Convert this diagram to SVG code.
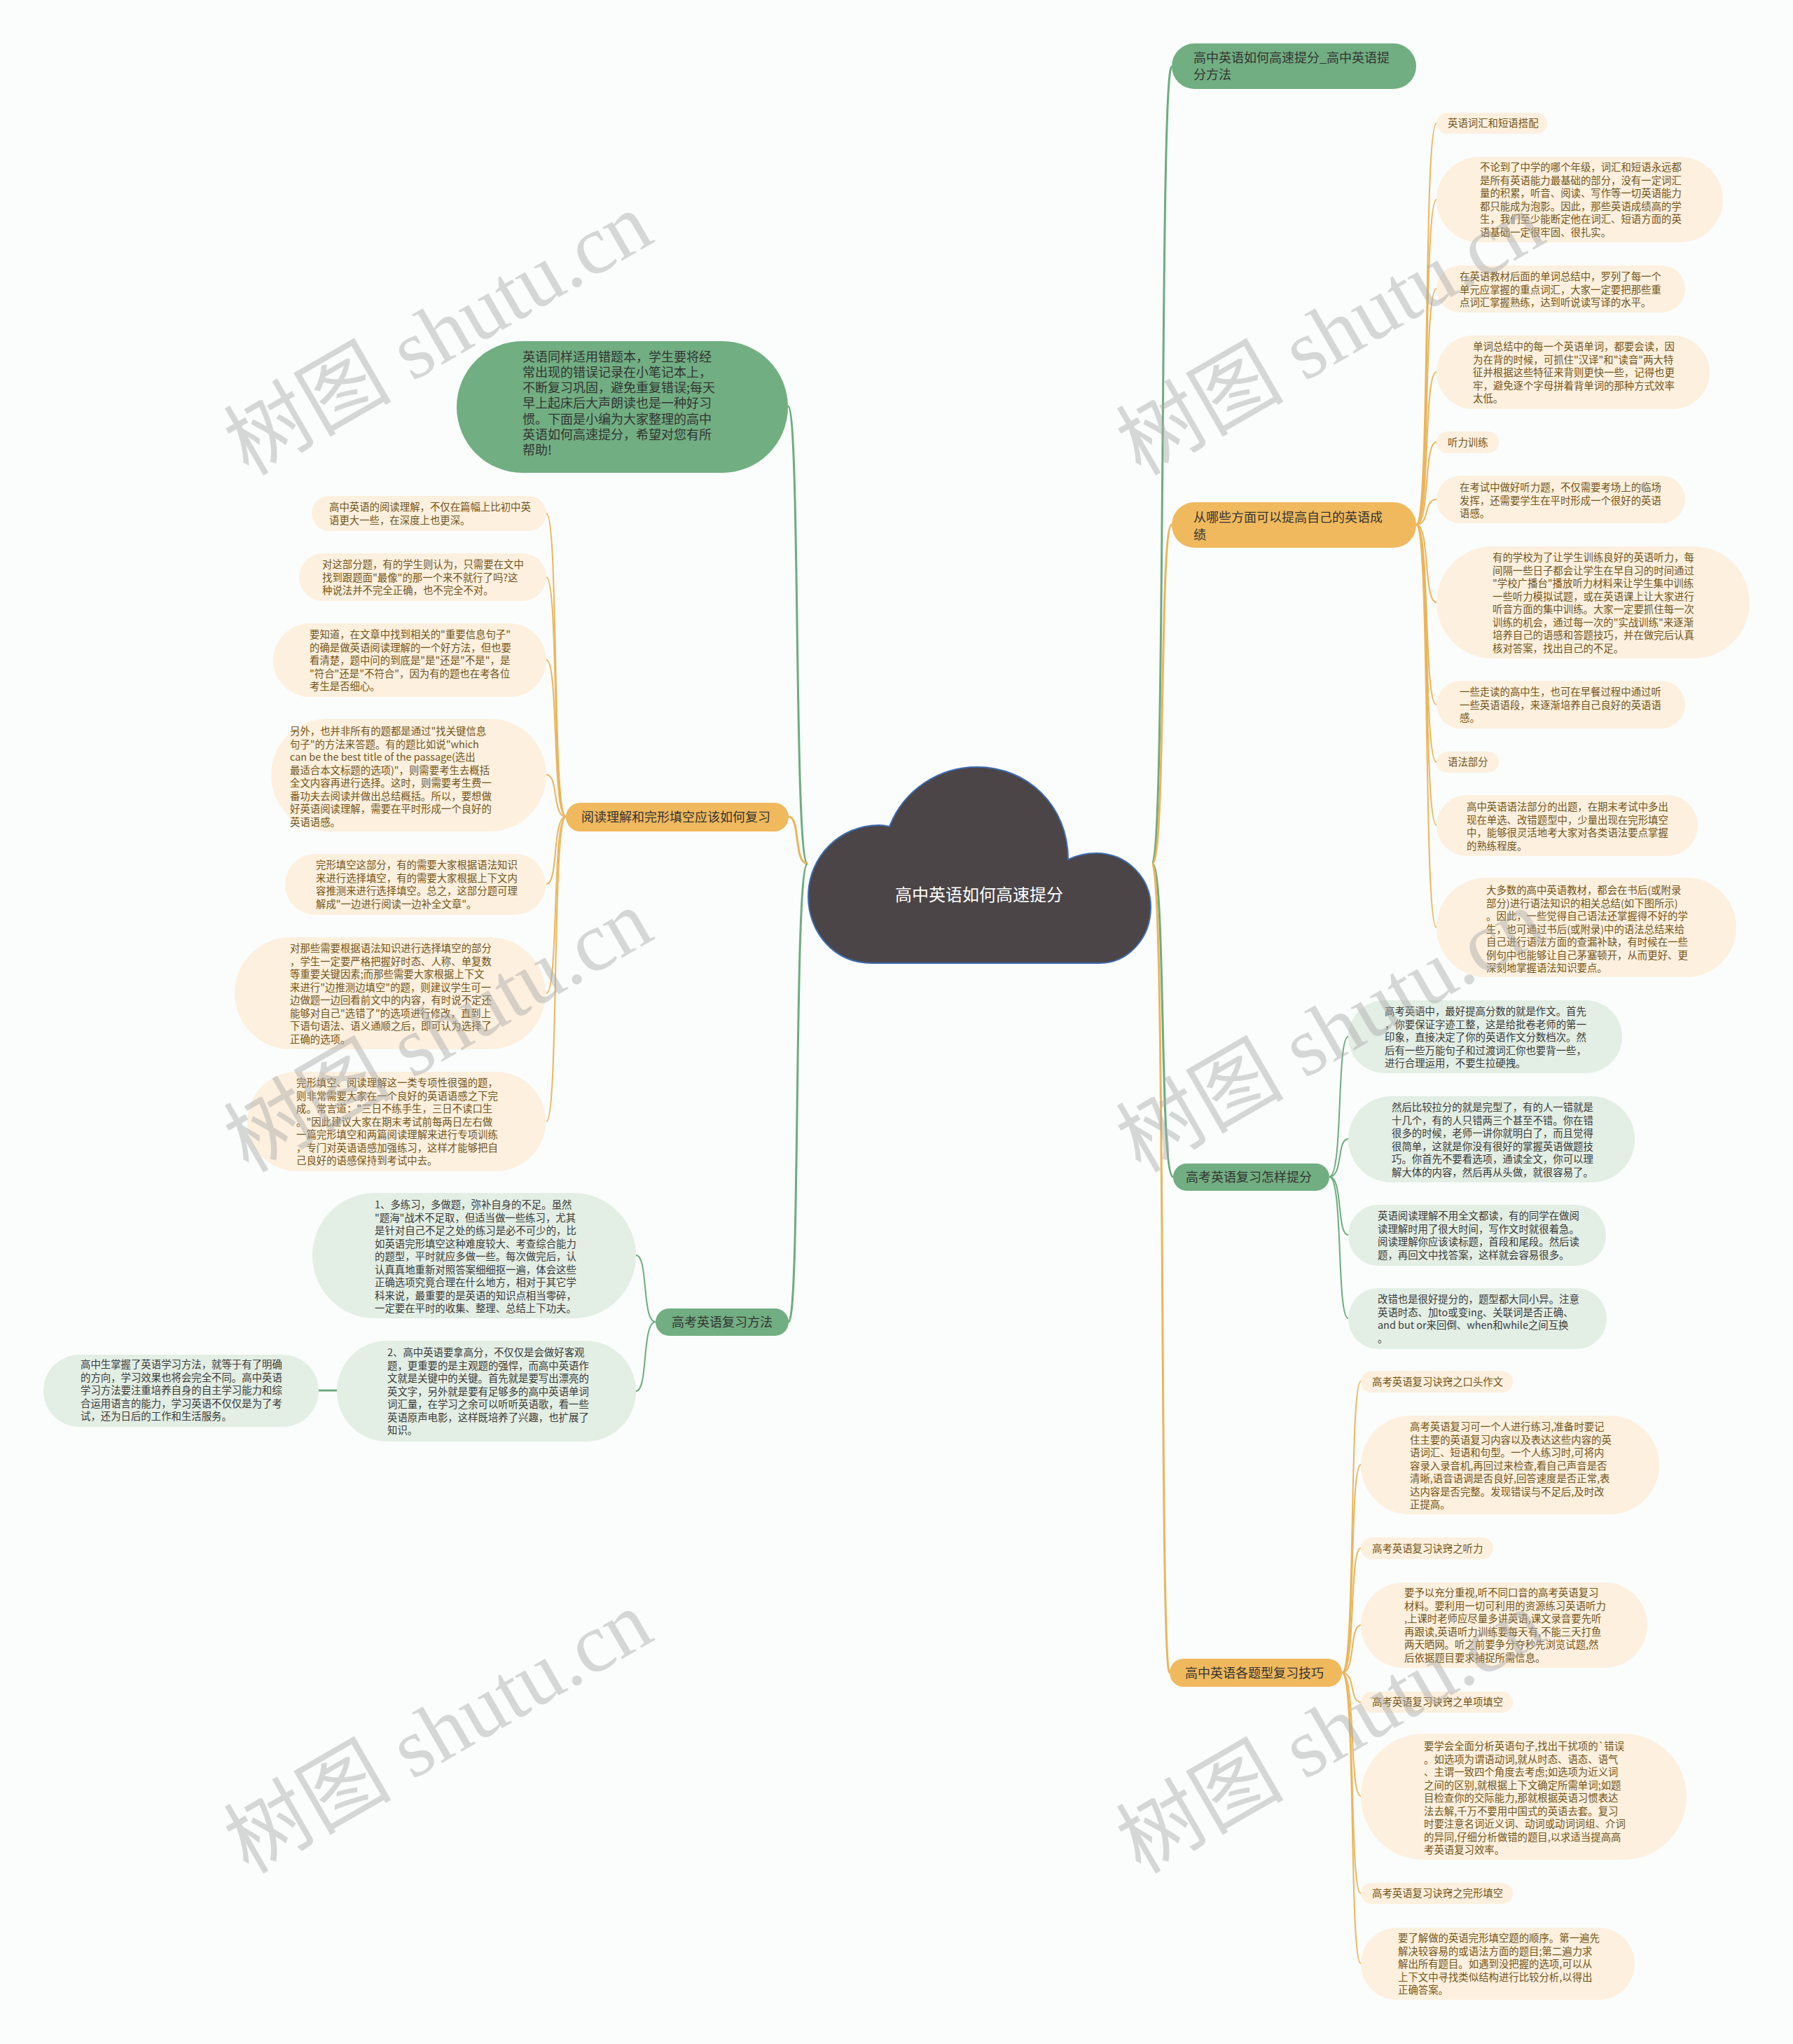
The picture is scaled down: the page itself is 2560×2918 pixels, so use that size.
<svg xmlns="http://www.w3.org/2000/svg" width="2560" height="2918" viewBox="0 0 2560 2918">
<style>
text{font-family:"Noto Sans CJK SC","Liberation Sans",sans-serif}
.lf{font-size:14.4px;fill:#735418}
.lg{font-size:14.4px;fill:#3a3a3a}
.mn{font-size:18px;fill:#333333}
.bl{fill:#fdf0df}
.gl{fill:#e3eee4}
.gm{fill:#71ae82}
.om{fill:#f0b95d}
.co{fill:none;stroke:#ecb45a;stroke-width:2}
.cg{fill:none;stroke:#6dab7e;stroke-width:2}
.co3{fill:none;stroke:#ecb45a;stroke-width:3}
.cg3{fill:none;stroke:#6dab7e;stroke-width:3}
.wm{font-family:"Liberation Serif","Noto Sans CJK SC",serif;font-size:120px;fill:#a9a9a9;opacity:0.45}
</style>
<rect width="2560" height="2918" fill="#fafdfc"/>
<g id="connectors">
<path class="cg3" d="M1645,1233 C1665,1233 1655,95 1673,95"/>
<path class="co3" d="M1645,1233 C1665,1233 1655,749 1673,749"/>
<path class="cg3" d="M1645,1233 C1665,1233 1655,1680 1675,1680"/>
<path class="co3" d="M1645,1233 C1665,1233 1655,2388 1670,2388"/>
<path class="cg3" d="M1153,1233 C1133,1233 1143,580 1125,580"/>
<path class="co3" d="M1153,1233 C1133,1233 1143,1166 1126,1166"/>
<path class="cg3" d="M1153,1233 C1133,1233 1143,1887 1126,1887"/>
<path class="co" d="M2022,749 C2042,749 2032,176 2051,176"/>
<path class="co" d="M2022,749 C2042,749 2032,285 2051,285"/>
<path class="co" d="M2022,749 C2042,749 2032,412 2051,412"/>
<path class="co" d="M2022,749 C2042,749 2032,531 2051,531"/>
<path class="co" d="M2022,749 C2042,749 2032,631 2051,631"/>
<path class="co" d="M2022,749 C2042,749 2032,713 2051,713"/>
<path class="co" d="M2022,749 C2042,749 2032,860 2051,860"/>
<path class="co" d="M2022,749 C2042,749 2032,1006 2051,1006"/>
<path class="co" d="M2022,749 C2042,749 2032,1088 2051,1088"/>
<path class="co" d="M2022,749 C2042,749 2032,1178 2051,1178"/>
<path class="co" d="M2022,749 C2042,749 2032,1324 2051,1324"/>
<path class="cg" d="M1898,1680 C1918,1680 1908,1480 1925,1480"/>
<path class="cg" d="M1898,1680 C1918,1680 1908,1626 1925,1626"/>
<path class="cg" d="M1898,1680 C1918,1680 1908,1763 1925,1763"/>
<path class="cg" d="M1898,1680 C1918,1680 1908,1882 1925,1882"/>
<path class="co" d="M1916,2388 C1936,2388 1926,1972 1943,1972"/>
<path class="co" d="M1916,2388 C1936,2388 1926,2091 1943,2091"/>
<path class="co" d="M1916,2388 C1936,2388 1926,2210 1943,2210"/>
<path class="co" d="M1916,2388 C1936,2388 1926,2320 1943,2320"/>
<path class="co" d="M1916,2388 C1936,2388 1926,2430 1943,2430"/>
<path class="co" d="M1916,2388 C1936,2388 1926,2564 1943,2564"/>
<path class="co" d="M1916,2388 C1936,2388 1926,2703 1943,2703"/>
<path class="co" d="M1916,2388 C1936,2388 1926,2803 1943,2803"/>
<path class="co" d="M808,1166 C788,1166 798,733 780,733"/>
<path class="co" d="M808,1166 C788,1166 798,824 780,824"/>
<path class="co" d="M808,1166 C788,1166 798,942 780,942"/>
<path class="co" d="M808,1166 C788,1166 798,1106 780,1106"/>
<path class="co" d="M808,1166 C788,1166 798,1262 780,1262"/>
<path class="co" d="M808,1166 C788,1166 798,1418 780,1418"/>
<path class="co" d="M808,1166 C788,1166 798,1601 780,1601"/>
<path class="cg" d="M936,1887 C916,1887 926,1792 908,1792"/>
<path class="cg" d="M936,1887 C916,1887 926,1986 908,1986"/>
<path class="cg3" d="M481,1985 L455,1985"/>
</g>
<g id="root">
<path d="M1245,1375 C1190,1375 1154,1330 1154,1280 C1154,1222 1200,1178 1255,1178 C1262,1178 1266,1179 1270,1180 C1290,1128 1340,1095 1395,1095 C1467,1095 1525,1150 1525,1227 C1538,1221 1550,1218 1565,1218 C1608,1218 1643,1252 1643,1295 C1643,1340 1610,1375 1570,1375 Z" fill="#4b4547" stroke="#3d6bb0" stroke-width="2"/>
<text x="1398" y="1286" font-size="24" fill="#ffffff" text-anchor="middle">高中英语如何高速提分</text>
</g>
<g id="r1"><rect class="gm" x="1673" y="62" width="349" height="65" rx="32.5"/>
<text class="mn"><tspan x="1704" y="88.5">高中英语如何高速提分_高中英语提</tspan><tspan x="1704" y="112.5">分方法</tspan></text></g>
<g id="r2"><rect class="om" x="1673" y="717" width="349" height="65" rx="32.5"/>
<text class="mn"><tspan x="1704" y="744.5">从哪些方面可以提高自己的英语成</tspan><tspan x="1704" y="769.5">绩</tspan></text></g>
<g id="r3"><rect class="gm" x="1675" y="1661" width="223" height="39" rx="19.5"/>
<text class="mn" x="1693" y="1687">高考英语复习怎样提分</text></g>
<g id="r4"><rect class="om" x="1670" y="2368" width="246" height="40" rx="20"/>
<text class="mn" x="1692" y="2394.5">高中英语各题型复习技巧</text></g>
<g id="l1"><rect class="gm" x="652" y="487" width="473" height="188" rx="94"/>
<text class="mn" fill="#2b2b2b"><tspan x="746" y="515.5">英语同样适用错题本，学生要将经</tspan><tspan x="746" y="537.8">常出现的错误记录在小笔记本上，</tspan><tspan x="746" y="560.1">不断复习巩固，避免重复错误;每天</tspan><tspan x="746" y="582.4">早上起床后大声朗读也是一种好习</tspan><tspan x="746" y="604.7">惯。下面是小编为大家整理的高中</tspan><tspan x="746" y="627">英语如何高速提分，希望对您有所</tspan><tspan x="746" y="649.3">帮助!</tspan></text></g>
<g id="l2"><rect class="om" x="808" y="1146" width="318" height="41" rx="20.5"/>
<text class="mn" x="830" y="1172.5">阅读理解和完形填空应该如何复习</text></g>
<g id="l3"><rect class="gm" x="936" y="1868" width="190" height="39" rx="19.5"/>
<text class="mn" x="959" y="1894">高考英语复习方法</text></g>
<g id="a"><rect class="bl" x="2051" y="161" width="158" height="30" rx="15"/><text class="lf" x="2067" y="181">英语词汇和短语搭配</text></g>
<g id="b"><rect class="bl" x="2051" y="224" width="409" height="122" rx="61"/>
<text class="lf"><tspan x="2113" y="244">不论到了中学的哪个年级，词汇和短语永远都</tspan><tspan x="2113" y="262.5">是所有英语能力最基础的部分，没有一定词汇</tspan><tspan x="2113" y="281">量的积累，听音、阅读、写作等一切英语能力</tspan><tspan x="2113" y="299.5">都只能成为泡影。因此，那些英语成绩高的学</tspan><tspan x="2113" y="318">生，我们至少能断定他在词汇、短语方面的英</tspan><tspan x="2113" y="336.5">语基础一定很牢固、很扎实。</tspan></text></g>
<g id="c"><rect class="bl" x="2051" y="379" width="355" height="67" rx="33.5"/>
<text class="lf"><tspan x="2084" y="400">在英语教材后面的单词总结中，罗列了每一个</tspan><tspan x="2084" y="418.5">单元应掌握的重点词汇，大家一定要把那些重</tspan><tspan x="2084" y="437">点词汇掌握熟练，达到听说读写译的水平。</tspan></text></g>
<g id="d"><rect class="bl" x="2051" y="479" width="390" height="105" rx="52.5"/>
<text class="lf"><tspan x="2103" y="500">单词总结中的每一个英语单词，都要会读，因</tspan><tspan x="2103" y="518.5">为在背的时候，可抓住"汉译"和"读音"两大特</tspan><tspan x="2103" y="537">征并根据这些特征来背则更快一些，记得也更</tspan><tspan x="2103" y="555.5">牢，避免逐个字母拼着背单词的那种方式效率</tspan><tspan x="2103" y="574">太低。</tspan></text></g>
<g id="e"><rect class="bl" x="2051" y="616" width="89" height="31" rx="15.5"/><text class="lf" x="2067" y="637">听力训练</text></g>
<g id="f"><rect class="bl" x="2051" y="679" width="355" height="68" rx="34"/>
<text class="lf"><tspan x="2084" y="701">在考试中做好听力题，不仅需要考场上的临场</tspan><tspan x="2084" y="719.5">发挥，还需要学生在平时形成一个很好的英语</tspan><tspan x="2084" y="738">语感。</tspan></text></g>
<g id="g"><rect class="bl" x="2051" y="780" width="447" height="160" rx="80"/>
<text class="lf"><tspan x="2131" y="801">有的学校为了让学生训练良好的英语听力，每</tspan><tspan x="2131" y="819.5">间隔一些日子都会让学生在早自习的时间通过</tspan><tspan x="2131" y="838">"学校广播台"播放听力材料来让学生集中训练</tspan><tspan x="2131" y="856.5">一些听力模拟试题，或在英语课上让大家进行</tspan><tspan x="2131" y="875">听音方面的集中训练。大家一定要抓住每一次</tspan><tspan x="2131" y="893.5">训练的机会，通过每一次的"实战训练"来逐渐</tspan><tspan x="2131" y="912">培养自己的语感和答题技巧，并在做完后认真</tspan><tspan x="2131" y="930.5">核对答案，找出自己的不足。</tspan></text></g>
<g id="h"><rect class="bl" x="2051" y="972" width="355" height="68" rx="34"/>
<text class="lf"><tspan x="2084" y="993">一些走读的高中生，也可在早餐过程中通过听</tspan><tspan x="2084" y="1011.5">一些英语语段，来逐渐培养自己良好的英语语</tspan><tspan x="2084" y="1030">感。</tspan></text></g>
<g id="i"><rect class="bl" x="2051" y="1073" width="89" height="30" rx="15"/><text class="lf" x="2067" y="1093">语法部分</text></g>
<g id="j"><rect class="bl" x="2051" y="1135" width="373" height="87" rx="43.5"/>
<text class="lf"><tspan x="2094" y="1157">高中英语语法部分的出题，在期末考试中多出</tspan><tspan x="2094" y="1175.5">现在单选、改错题型中，少量出现在完形填空</tspan><tspan x="2094" y="1194">中，能够很灵活地考大家对各类语法要点掌握</tspan><tspan x="2094" y="1212.5">的熟练程度。</tspan></text></g>
<g id="k"><rect class="bl" x="2051" y="1253" width="428" height="142" rx="71"/>
<text class="lf"><tspan x="2122" y="1276">大多数的高中英语教材，都会在书后(或附录</tspan><tspan x="2122" y="1294.5">部分)进行语法知识的相关总结(如下图所示)</tspan><tspan x="2122" y="1313">。因此，一些觉得自己语法还掌握得不好的学</tspan><tspan x="2122" y="1331.5">生，也可通过书后(或附录)中的语法总结来给</tspan><tspan x="2122" y="1350">自己进行语法方面的查漏补缺，有时候在一些</tspan><tspan x="2122" y="1368.5">例句中也能够让自己茅塞顿开，从而更好、更</tspan><tspan x="2122" y="1387">深刻地掌握语法知识要点。</tspan></text></g>
<g id="l"><rect class="gl" x="1925" y="1428" width="391" height="104" rx="52"/>
<text class="lg"><tspan x="1977" y="1449">高考英语中，最好提高分数的就是作文。首先</tspan><tspan x="1977" y="1467.5">，你要保证字迹工整，这是给批卷老师的第一</tspan><tspan x="1977" y="1486">印象，直接决定了你的英语作文分数档次。然</tspan><tspan x="1977" y="1504.5">后有一些万能句子和过渡词汇你也要背一些，</tspan><tspan x="1977" y="1523">进行合理运用，不要生拉硬拽。</tspan></text></g>
<g id="m"><rect class="gl" x="1925" y="1565" width="409" height="123" rx="61.5"/>
<text class="lg"><tspan x="1987" y="1586">然后比较拉分的就是完型了，有的人一错就是</tspan><tspan x="1987" y="1604.5">十几个，有的人只错两三个甚至不错。你在错</tspan><tspan x="1987" y="1623">很多的时候，老师一讲你就明白了，而且觉得</tspan><tspan x="1987" y="1641.5">很简单，这就是你没有很好的掌握英语做题技</tspan><tspan x="1987" y="1660">巧。你首先不要看选项，通读全文，你可以理</tspan><tspan x="1987" y="1678.5">解大体的内容，然后再从头做，就很容易了。</tspan></text></g>
<g id="n"><rect class="gl" x="1925" y="1720" width="368" height="87" rx="43.5"/>
<text class="lg"><tspan x="1967" y="1741">英语阅读理解不用全文都读，有的同学在做阅</tspan><tspan x="1967" y="1759.5">读理解时用了很大时间，写作文时就很着急。</tspan><tspan x="1967" y="1778">阅读理解你应该读标题，首段和尾段。然后读</tspan><tspan x="1967" y="1796.5">题，再回文中找答案，这样就会容易很多。</tspan></text></g>
<g id="o"><rect class="gl" x="1925" y="1839" width="369" height="87" rx="43.5"/>
<text class="lg"><tspan x="1967" y="1860">改错也是很好提分的，题型都大同小异。注意</tspan><tspan x="1967" y="1878.5">英语时态、加to或变ing、关联词是否正确、</tspan><tspan x="1967" y="1897">and but or来回倒、when和while之间互换</tspan><tspan x="1967" y="1915.5">。</tspan></text></g>
<g id="p"><rect class="bl" x="1943" y="1957" width="217" height="31" rx="15.5"/><text class="lf" x="1959" y="1978">高考英语复习诀窍之口头作文</text></g>
<g id="q"><rect class="bl" x="1943" y="2021" width="426" height="141" rx="70.5"/>
<text class="lf"><tspan x="2013" y="2042">高考英语复习可一个人进行练习,准备时要记</tspan><tspan x="2013" y="2060.5">住主要的英语复习内容以及表达这些内容的英</tspan><tspan x="2013" y="2079">语词汇、短语和句型。一个人练习时,可将内</tspan><tspan x="2013" y="2097.5">容录入录音机,再回过来检查,看自己声音是否</tspan><tspan x="2013" y="2116">清晰,语音语调是否良好,回答速度是否正常,表</tspan><tspan x="2013" y="2134.5">达内容是否完整。发现错误与不足后,及时改</tspan><tspan x="2013" y="2153">正提高。</tspan></text></g>
<g id="r"><rect class="bl" x="1943" y="2195" width="189" height="31" rx="15.5"/><text class="lf" x="1959" y="2216">高考英语复习诀窍之听力</text></g>
<g id="s"><rect class="bl" x="1943" y="2259" width="409" height="122" rx="61"/>
<text class="lf"><tspan x="2005" y="2279">要予以充分重视,听不同口音的高考英语复习</tspan><tspan x="2005" y="2297.5">材料。要利用一切可利用的资源练习英语听力</tspan><tspan x="2005" y="2316">,上课时老师应尽量多讲英语,课文录音要先听</tspan><tspan x="2005" y="2334.5">再跟读,英语听力训练要每天有,不能三天打鱼</tspan><tspan x="2005" y="2353">两天晒网。听之前要争分夺秒先浏览试题,然</tspan><tspan x="2005" y="2371.5">后依据题目要求捕捉所需信息。</tspan></text></g>
<g id="t"><rect class="bl" x="1943" y="2415" width="217" height="30" rx="15"/><text class="lf" x="1959" y="2435">高考英语复习诀窍之单项填空</text></g>
<g id="u"><rect class="bl" x="1943" y="2475" width="465" height="180" rx="90"/>
<text class="lf"><tspan x="2033" y="2498">要学会全面分析英语句子,找出干扰项的`错误</tspan><tspan x="2033" y="2516.5">。如选项为谓语动词,就从时态、语态、语气</tspan><tspan x="2033" y="2535">、主谓一致四个角度去考虑;如选项为近义词</tspan><tspan x="2033" y="2553.5">之间的区别,就根据上下文确定所需单词;如题</tspan><tspan x="2033" y="2572">目检查你的交际能力,那就根据英语习惯表达</tspan><tspan x="2033" y="2590.5">法去解,千万不要用中国式的英语去套。复习</tspan><tspan x="2033" y="2609">时要注意名词近义词、动词或动词词组、介词</tspan><tspan x="2033" y="2627.5">的异同,仔细分析做错的题目,以求适当提高高</tspan><tspan x="2033" y="2646">考英语复习效率。</tspan></text></g>
<g id="v"><rect class="bl" x="1943" y="2688" width="217" height="30" rx="15"/><text class="lf" x="1959" y="2708">高考英语复习诀窍之完形填空</text></g>
<g id="w"><rect class="bl" x="1943" y="2752" width="391" height="103" rx="51.5"/>
<text class="lf"><tspan x="1996" y="2772">要了解做的英语完形填空题的顺序。第一遍先</tspan><tspan x="1996" y="2790.5">解决较容易的或语法方面的题目;第二遍力求</tspan><tspan x="1996" y="2809">解出所有题目。如遇到没把握的选项,可以从</tspan><tspan x="1996" y="2827.5">上下文中寻找类似结构进行比较分析,以得出</tspan><tspan x="1996" y="2846">正确答案。</tspan></text></g>
<g id="A"><rect class="bl" x="445" y="708" width="335" height="50" rx="25"/>
<text class="lf"><tspan x="470" y="729">高中英语的阅读理解，不仅在篇幅上比初中英</tspan><tspan x="470" y="747.5">语更大一些，在深度上也更深。</tspan></text></g>
<g id="B"><rect class="bl" x="427" y="790" width="353" height="68" rx="34"/>
<text class="lf"><tspan x="460" y="811">对这部分题，有的学生则认为，只需要在文中</tspan><tspan x="460" y="829.5">找到跟题面"最像"的那一个来不就行了吗?这</tspan><tspan x="460" y="848">种说法并不完全正确，也不完全不对。</tspan></text></g>
<g id="C"><rect class="bl" x="390" y="890" width="390" height="105" rx="52.5"/>
<text class="lf"><tspan x="442" y="911">要知道，在文章中找到相关的"重要信息句子"</tspan><tspan x="442" y="929.5">的确是做英语阅读理解的一个好方法，但也要</tspan><tspan x="442" y="948">看清楚，题中问的到底是"是"还是"不是"，是</tspan><tspan x="442" y="966.5">"符合"还是"不符合"，因为有的题也在考各位</tspan><tspan x="442" y="985">考生是否细心。</tspan></text></g>
<g id="D"><rect class="bl" x="387" y="1026" width="393" height="161" rx="80.5"/>
<text class="lf"><tspan x="414" y="1049">另外，也并非所有的题都是通过"找关键信息</tspan><tspan x="414" y="1067.5">句子"的方法来答题。有的题比如说"which</tspan><tspan x="414" y="1086">can be the best title of the passage(选出</tspan><tspan x="414" y="1104.5">最适合本文标题的选项)"，则需要考生去概括</tspan><tspan x="414" y="1123">全文内容再进行选择。这时，则需要考生费一</tspan><tspan x="414" y="1141.5">番功夫去阅读并做出总结概括。所以，要想做</tspan><tspan x="414" y="1160">好英语阅读理解，需要在平时形成一个良好的</tspan><tspan x="414" y="1178.5">英语语感。</tspan></text></g>
<g id="E"><rect class="bl" x="407" y="1219" width="372" height="87" rx="43.5"/>
<text class="lf"><tspan x="451" y="1240">完形填空这部分，有的需要大家根据语法知识</tspan><tspan x="451" y="1258.5">来进行选择填空，有的需要大家根据上下文内</tspan><tspan x="451" y="1277">容推测来进行选择填空。总之，这部分题可理</tspan><tspan x="451" y="1295.5">解成"一边进行阅读一边补全文章"。</tspan></text></g>
<g id="F"><rect class="bl" x="335" y="1338" width="444" height="160" rx="80"/>
<text class="lf"><tspan x="414" y="1359">对那些需要根据语法知识进行选择填空的部分</tspan><tspan x="414" y="1377.5">，学生一定要严格把握好时态、人称、单复数</tspan><tspan x="414" y="1396">等重要关键因素;而那些需要大家根据上下文</tspan><tspan x="414" y="1414.5">来进行"边推测边填空"的题，则建议学生可一</tspan><tspan x="414" y="1433">边做题一边回看前文中的内容，有时说不定还</tspan><tspan x="414" y="1451.5">能够对自己"选错了"的选项进行修改，直到上</tspan><tspan x="414" y="1470">下语句语法、语义通顺之后，即可认为选择了</tspan><tspan x="414" y="1488.5">正确的选项。</tspan></text></g>
<g id="G"><rect class="bl" x="353" y="1530" width="426" height="142" rx="71"/>
<text class="lf"><tspan x="423" y="1551">完形填空、阅读理解这一类专项性很强的题，</tspan><tspan x="423" y="1569.5">则非常需要大家在一个良好的英语语感之下完</tspan><tspan x="423" y="1588">成。常言道："三日不练手生，三日不读口生</tspan><tspan x="423" y="1606.5">。"因此建议大家在期末考试前每两日左右做</tspan><tspan x="423" y="1625">一篇完形填空和两篇阅读理解来进行专项训练</tspan><tspan x="423" y="1643.5">，专门对英语语感加强练习，这样才能够把自</tspan><tspan x="423" y="1662">己良好的语感保持到考试中去。</tspan></text></g>
<g id="m1"><rect class="gl" x="446" y="1703" width="462" height="179" rx="89.5"/>
<text class="lg"><tspan x="535" y="1725">1、多练习，多做题，弥补自身的不足。虽然</tspan><tspan x="535" y="1743.5">"题海"战术不足取，但适当做一些练习，尤其</tspan><tspan x="535" y="1762">是针对自己不足之处的练习是必不可少的，比</tspan><tspan x="535" y="1780.5">如英语完形填空这种难度较大、考查综合能力</tspan><tspan x="535" y="1799">的题型，平时就应多做一些。每次做完后，认</tspan><tspan x="535" y="1817.5">认真真地重新对照答案细细抠一遍，体会这些</tspan><tspan x="535" y="1836">正确选项究竟合理在什么地方，相对于其它学</tspan><tspan x="535" y="1854.5">科来说，最重要的是英语的知识点相当零碎，</tspan><tspan x="535" y="1873">一定要在平时的收集、整理、总结上下功夫。</tspan></text></g>
<g id="m2"><rect class="gl" x="481" y="1914" width="427" height="144" rx="72"/>
<text class="lg"><tspan x="553" y="1936">2、高中英语要拿高分，不仅仅是会做好客观</tspan><tspan x="553" y="1954.5">题，更重要的是主观题的强悍，而高中英语作</tspan><tspan x="553" y="1973">文就是关键中的关键。首先就是要写出漂亮的</tspan><tspan x="553" y="1991.5">英文字，另外就是要有足够多的高中英语单词</tspan><tspan x="553" y="2010">词汇量，在学习之余可以听听英语歌，看一些</tspan><tspan x="553" y="2028.5">英语原声电影，这样既培养了兴趣，也扩展了</tspan><tspan x="553" y="2047">知识。</tspan></text></g>
<g id="m3"><rect class="gl" x="62" y="1934" width="393" height="103" rx="51.5"/>
<text class="lg"><tspan x="115" y="1953">高中生掌握了英语学习方法，就等于有了明确</tspan><tspan x="115" y="1971.5">的方向，学习效果也将会完全不同。高中英语</tspan><tspan x="115" y="1990">学习方法要注重培养自身的自主学习能力和综</tspan><tspan x="115" y="2008.5">合运用语言的能力，学习英语不仅仅是为了考</tspan><tspan x="115" y="2027">试，还为日后的工作和生活服务。</tspan></text></g>
<g id="watermarks">
<text class="wm" text-anchor="middle" transform="translate(646,512) rotate(-30)">树图 shutu.cn</text>
<text class="wm" text-anchor="middle" transform="translate(646,1507) rotate(-30)">树图 shutu.cn</text>
<text class="wm" text-anchor="middle" transform="translate(646,2508) rotate(-30)">树图 shutu.cn</text>
<text class="wm" text-anchor="middle" transform="translate(1920,512) rotate(-30)">树图 shutu.cn</text>
<text class="wm" text-anchor="middle" transform="translate(1920,1507) rotate(-30)">树图 shutu.cn</text>
<text class="wm" text-anchor="middle" transform="translate(1920,2508) rotate(-30)">树图 shutu.cn</text>
</g>
</svg>
